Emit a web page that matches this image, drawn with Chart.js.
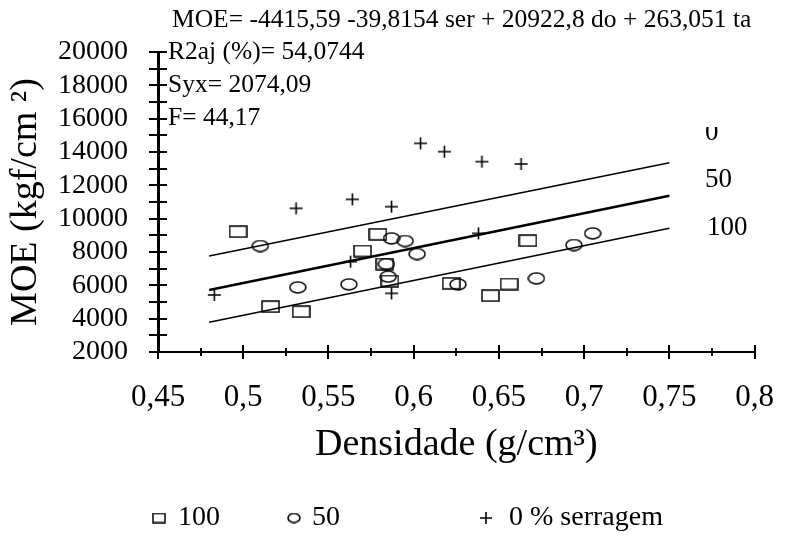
<!DOCTYPE html>
<html>
<head>
<meta charset="utf-8">
<script src="https://cdn.jsdelivr.net/npm/chart.js@4.4.1/dist/chart.umd.min.js"></script>
<style>
  html, body { margin: 0; padding: 0; background: #fff; }
</style>
</head>
<body>
<canvas id="moeChart" width="801" height="542"></canvas>
<script>
// 100 % serragem (squares)
const dens100 = [0.497, 0.516, 0.534, 0.570, 0.579, 0.583, 0.586, 0.622, 0.645, 0.656, 0.667];
const moe100 = [9220, 4720, 4420, 8060, 9060, 7280, 6260, 6120, 5380, 6080, 8680];
// 50 % serragem (circles)
const dens50 = [0.510, 0.532, 0.562, 0.587, 0.595, 0.602, 0.584, 0.585, 0.626, 0.672, 0.694, 0.705];
const moe50 = [8360, 5880, 6060, 8820, 8660, 7880, 7280, 6520, 6060, 6420, 8420, 9120];
// 0 % serragem (plus)
const dens0 = [0.483, 0.531, 0.564, 0.563, 0.604, 0.618, 0.640, 0.663, 0.587, 0.638, 0.587];
const moe0 = [5420, 10620, 11160, 7420, 14520, 14020, 13420, 13280, 10720, 9120, 5520];

// fitted lines, start and end
const lineDens = [0.48, 0.75];
const fit0 = [7760, 13360];
const fit50 = [5720, 11370];
const fit100 = [3780, 9420];

const legendLabels = ["100", "50", "0 % serragem"];
const statLines = [
  "MOE= -4415,59 -39,8154 ser + 20922,8 do + 263,051 ta",
  "R2aj (%)= 54,0744",
  "Syx= 2074,09",
  "F= 44,17"
];

const FONT = "'Liberation Serif', 'Times New Roman', serif";

function pts(xs, ys) {
  return xs.map((v, i) => ({ x: v, y: ys[i] }));
}

// marker images
function makeMarker(kind, w, h, lw) {
  const c = document.createElement("canvas");
  c.width = w + 2;
  c.height = h + 2;
  const g = c.getContext("2d");
  g.strokeStyle = "#000";
  g.lineWidth = lw;
  if (kind === "rect") {
    g.strokeRect(1, 1, w, h);
  } else if (kind === "ellipse") {
    g.beginPath();
    g.ellipse(c.width / 2, c.height / 2, w / 2, h / 2, 0, 0, Math.PI * 2);
    g.stroke();
  } else {
    g.beginPath();
    g.moveTo(1, c.height / 2);
    g.lineTo(c.width - 1, c.height / 2);
    g.moveTo(c.width / 2, 1);
    g.lineTo(c.width / 2, c.height - 1);
    g.stroke();
  }
  return c;
}

const sqMark = makeMarker("rect", 17, 11, 1.5);
const ciMark = makeMarker("ellipse", 16, 11, 1.5);
const plMark = makeMarker("plus", 13, 12, 1.6);

const sqSmall = makeMarker("rect", 12, 9, 1.5);
const ciSmall = makeMarker("ellipse", 12, 9, 1.6);
const plSmall = makeMarker("plus", 12, 12, 1.6);

const decorPlugin = {
  id: "decor",
  afterDraw(chart) {
    const { ctx, scales } = chart;
    const x = scales.x;
    const y = scales.y;
    ctx.save();
    ctx.strokeStyle = "#000";
    ctx.fillStyle = "#000";

    // y ticks crossing the axis
    ctx.lineWidth = 2;
    const ax = x.left;
    for (let v = y.min; v <= y.max; v += 1000) {
      const py = Math.round(y.getPixelForValue(v));
      ctx.beginPath();
      ctx.moveTo(ax - 9, py);
      ctx.lineTo(ax + 9, py);
      ctx.stroke();
    }

    // x ticks crossing the axis
    const ay = y.bottom;
    for (let i = 0; i <= 14; i++) {
      const px = Math.round(x.getPixelForValue(x.min + i * 0.025));
      const len = i % 2 === 0 ? 7 : 4;
      ctx.beginPath();
      ctx.moveTo(px, ay - len);
      ctx.lineTo(px, ay + len);
      ctx.stroke();
    }

    // statistics text
    ctx.textAlign = "left";
    ctx.textBaseline = "middle";
    ctx.font = "25.5px " + FONT;
    ctx.fillText(statLines[0], 172, 20);
    ctx.fillText(statLines[1], 168, 52);
    ctx.fillText(statLines[2], 168, 85);
    ctx.fillText(statLines[3], 168, 118);

    // labels at the end of the fitted lines
    ctx.font = "27px " + FONT;
    ctx.save();
    ctx.beginPath();
    ctx.rect(0, 127, chart.width, chart.height);
    ctx.clip();
    ctx.fillText("0", 705, 133);
    ctx.restore();
    ctx.fillText("50", 705, 180);
    ctx.fillText("100", 707, 228);

    // legend
    const ly = 518;
    ctx.font = "28px " + FONT;
    ctx.drawImage(sqSmall, 159 - sqSmall.width / 2, ly - sqSmall.height / 2);
    ctx.fillText(legendLabels[0], 178, ly);
    ctx.drawImage(ciSmall, 294 - ciSmall.width / 2, ly - ciSmall.height / 2);
    ctx.fillText(legendLabels[1], 312, ly);
    ctx.drawImage(plSmall, 486 - plSmall.width / 2, ly - plSmall.height / 2);
    ctx.fillText(legendLabels[2], 509, ly);

    ctx.restore();
  }
};

const lineStyle = {
  type: "line",
  borderColor: "#000",
  pointRadius: 0,
  fill: false,
  tension: 0
};

new Chart(document.getElementById("moeChart"), {
  type: "scatter",
  data: {
    datasets: [
      { ...lineStyle, label: "fit 0", data: pts(lineDens, fit0), borderWidth: 1.6 },
      { ...lineStyle, label: "fit 50", data: pts(lineDens, fit50), borderWidth: 2.6 },
      { ...lineStyle, label: "fit 100", data: pts(lineDens, fit100), borderWidth: 1.6 },
      { label: legendLabels[0], data: pts(dens100, moe100), pointStyle: sqMark, pointRadius: 8 },
      { label: legendLabels[1], data: pts(dens50, moe50), pointStyle: ciMark, pointRadius: 8 },
      { label: legendLabels[2], data: pts(dens0, moe0), pointStyle: plMark, pointRadius: 7 }
    ]
  },
  options: {
    responsive: false,
    animation: false,
    devicePixelRatio: 1,
    layout: { padding: { left: 0, right: 19, top: 52, bottom: 0 } },
    plugins: {
      legend: { display: false },
      tooltip: { enabled: false }
    },
    scales: {
      x: {
        type: "linear",
        min: 0.45,
        max: 0.8,
        afterFit: (s) => { s.height = 190; },
        grid: { display: false, drawTicks: false },
        border: { display: true, color: "#000", width: 2 },
        ticks: {
          stepSize: 0.05,
          padding: 27,
          autoSkip: false,
          maxRotation: 0,
          color: "#000",
          font: { family: FONT, size: 31 },
          callback: (v) => String(+v.toFixed(2)).replace(".", ",")
        },
        title: {
          display: true,
          text: "Densidade (g/cm³)",
          color: "#000",
          font: { family: FONT, size: 38 },
          padding: { top: 0, bottom: 74 }
        }
      },
      y: {
        min: 2000,
        max: 20000,
        afterFit: (s) => { s.width = 158; },
        grid: { display: false, drawTicks: false },
        border: { display: true, color: "#000", width: 3 },
        ticks: {
          stepSize: 2000,
          padding: 30,
          autoSkip: false,
          color: "#000",
          font: { family: FONT, size: 28 },
          callback: (v) => String(v)
        },
        title: {
          display: true,
          text: "MOE (kgf/cm ²)",
          color: "#000",
          font: { family: FONT, size: 38 },
          padding: { top: 3, bottom: 0 }
        }
      }
    }
  },
  plugins: [decorPlugin]
});
</script>
</body>
</html>
